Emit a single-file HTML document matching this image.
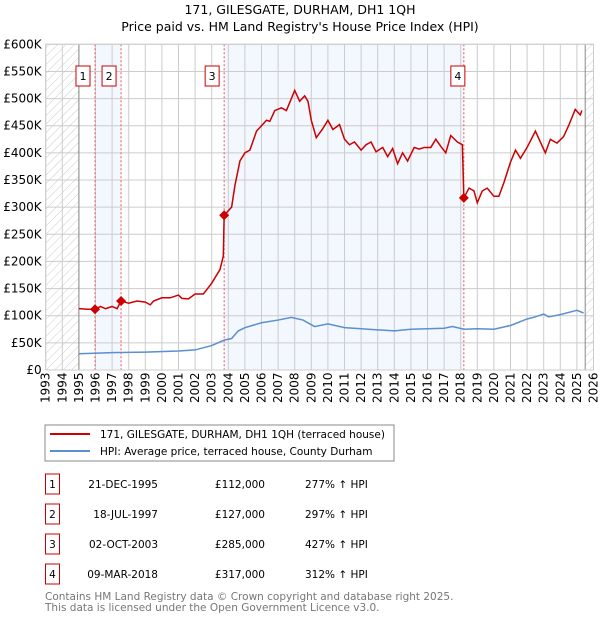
<!DOCTYPE html>
<html><head><meta charset="utf-8"><style>
body{margin:0;background:#fff;width:600px;height:620px;overflow:hidden;font-family:"DejaVu Sans","Liberation Sans",sans-serif}
svg text{font-family:"DejaVu Sans","Liberation Sans",sans-serif}
</style></head><body>
<svg id="c" width="600" height="620" xmlns="http://www.w3.org/2000/svg">
<defs><pattern id="hatch" width="6" height="6" patternUnits="userSpaceOnUse" patternTransform="rotate(45)"><line x1="0" y1="0" x2="0" y2="6" stroke="#ccc" stroke-width="1"/></pattern></defs>
<text x="300" y="14" text-anchor="middle" font-size="12.5">171, GILESGATE, DURHAM, DH1 1QH</text>
<text x="300" y="31" text-anchor="middle" font-size="12.5">Price paid vs. HM Land Registry's House Price Index (HPI)</text>
<g id="plot"></g>
<rect x="45" y="425" width="349" height="36" fill="#fff" stroke="#888"/>
<line x1="50" y1="434" x2="90" y2="434" stroke="#cc0000" stroke-width="2"/>
<text x="100" y="438" font-size="10.5">171, GILESGATE, DURHAM, DH1 1QH (terraced house)</text>
<line x1="50" y1="451" x2="90" y2="451" stroke="#5b8fd0" stroke-width="2"/>
<text x="100" y="455" font-size="10.5">HPI: Average price, terraced house, County Durham</text>
<g id="table" font-size="10.5"></g>
<text x="45" y="600" font-size="10.5" fill="#777">Contains HM Land Registry data © Crown copyright and database right 2025.</text>
<text x="45" y="611" font-size="10.5" fill="#777">This data is licensed under the Open Government Licence v3.0.</text>
</svg>
<script>
const years=[1993,1994,1995,1996,1997,1998,1999,2000,2001,2002,2003,2004,2005,2006,2007,2008,2009,2010,2011,2012,2013,2014,2015,2016,2017,2018,2019,2020,2021,2022,2023,2024,2025,2026];
const yTicks=[0,50,100,150,200,250,300,350,400,450,500,550,600];
const priceT=[1995.0,1995.5,1995.97,1996.3,1996.6,1997.0,1997.3,1997.54,1998.0,1998.5,1999.0,1999.3,1999.5,2000.0,2000.5,2001.0,2001.2,2001.6,2002.0,2002.5,2003.0,2003.5,2003.7,2003.75,2004.2,2004.4,2004.7,2005.0,2005.3,2005.7,2006.0,2006.3,2006.5,2006.8,2007.2,2007.5,2007.8,2008.0,2008.3,2008.6,2008.8,2009.0,2009.3,2009.7,2010.0,2010.3,2010.7,2011.0,2011.3,2011.6,2012.0,2012.3,2012.6,2012.9,2013.3,2013.6,2013.9,2014.2,2014.5,2014.8,2015.2,2015.5,2015.8,2016.2,2016.5,2016.8,2017.1,2017.4,2017.8,2018.1,2018.19,2018.5,2018.8,2019.0,2019.3,2019.6,2020.0,2020.3,2020.6,2021.0,2021.3,2021.6,2022.0,2022.5,2022.8,2023.1,2023.4,2023.8,2024.2,2024.5,2024.9,2025.2,2025.3];
const priceV=[113,112,112,117,113,117,113,127,123,127,125,120,127,133,133,138,132,131,140,140,160,185,210,285,300,340,385,400,405,440,450,460,458,478,483,478,500,515,495,505,495,460,428,445,460,443,452,425,415,420,405,415,420,402,410,393,408,380,400,385,410,407,410,410,425,412,400,432,420,415,317,335,330,308,330,335,320,320,345,383,405,390,410,440,420,400,425,418,430,450,480,470,478];
const hpiT=[1995,1997,1999,2001,2002,2003,2003.75,2004.2,2004.6,2005,2006,2007,2007.8,2008.5,2009.2,2010,2011,2012,2013,2014,2015,2016,2017,2017.5,2018.2,2019,2020,2021,2022,2022.5,2023,2023.3,2024,2025,2025.4];
const hpiV=[30,32,33,35,37,45,55,58,72,78,87,92,97,92,80,85,78,76,74,72,75,76,77,80,75,76,75,82,94,98,103,98,102,110,105];
const saleT=[1995.97,1997.54,2003.75,2018.19];
const saleV=[112,127,285,317];
const saleLabels=["1","2","3","4"];
const saleDates=["21-DEC-1995","18-JUL-1997","02-OCT-2003","09-MAR-2018"];
const salePrices=["£112,000","£127,000","£285,000","£317,000"];
const saleHpi=["277% ↑ HPI","297% ↑ HPI","427% ↑ HPI","312% ↑ HPI"];
const L=45.7,R=593.5,T=44.3,B=370;
const X=t=>L+(t-1993)/(2026-1993)*(R-L);
const Y=v=>B-v/600*(B-T);
const NS="http://www.w3.org/2000/svg";
const g=document.getElementById('plot');
function mk(tag,attrs,parent){const e=document.createElementNS(NS,tag);for(const k in attrs)e.setAttribute(k,attrs[k]);(parent||g).appendChild(e);return e;}
let e;
e=mk('rect',{x:X(saleT[0]),y:T,width:X(saleT[1])-X(saleT[0]),height:B-T,fill:'#f3f7fe'});


e=mk('rect',{x:X(saleT[2]),y:T,width:X(saleT[3])-X(saleT[2]),height:B-T,fill:'#f3f7fe'});


e=mk('rect',{x:L,y:T,width:X(1995)-L,height:B-T,fill:'url(#hatch)'});


e=mk('rect',{x:X(2025.5),y:T,width:R-X(2025.5),height:B-T,fill:'url(#hatch)'});


years.forEach(y=>{
 e=mk('line',{x1:X(y),y1:T,x2:X(y),y2:B,stroke:'#ccc','stroke-width':1});
 
 
 e=mk('text',{x:0,y:0,transform:`translate(${X(y)+4},${B+33}) rotate(-90)`,'font-size':12});
 e.textContent=y;
 
 
});
yTicks.forEach(v=>{
 e=mk('line',{x1:L,y1:Y(v),x2:R,y2:Y(v),stroke:'#ccc','stroke-width':1});
 
 
 e=mk('text',{x:L-4,y:Y(v)+4,'text-anchor':'end','font-size':12});
 e.textContent=v===0?'£0':'£'+v+'K';
 
 
});
e=mk('line',{x1:X(1995),y1:T,x2:X(1995),y2:B,stroke:'#888'});


e=mk('line',{x1:X(2025.5),y1:T,x2:X(2025.5),y2:B,stroke:'#888'});


saleT.forEach((t,i)=>{
 e=mk('line',{x1:X(t),y1:T,x2:X(t),y2:B,stroke:'#ee5555','stroke-dasharray':'2,2'});
 
 
 const bx=X(t)-(i==3?6:12)-7;
 e=mk('rect',{x:bx,y:66,width:14,height:20,fill:'#fff',stroke:'#cc0000'});
 
 
 e=mk('text',{x:bx+7,y:80,'text-anchor':'middle','font-size':11});
 e.textContent=saleLabels[i];
 
 
});
e=mk('polyline',{points:hpiT.map((t,i)=>X(t)+','+Y(hpiV[i])).join(' '),fill:'none',stroke:'#5b8fd0','stroke-width':1.5});


e=mk('polyline',{points:priceT.map((t,i)=>X(t)+','+Y(priceV[i])).join(' '),fill:'none',stroke:'#cc0000','stroke-width':1.5});


saleT.forEach((t,i)=>{
 const x=X(t),y=Y(saleV[i]);
 e=mk('polygon',{points:`${x},${y-5} ${x+5},${y} ${x},${y+5} ${x-5},${y}`,fill:'#cc0000'});
 
 
});
e=mk('rect',{x:L,y:T,width:R-L,height:B-T,fill:'none',stroke:'#ccc'});


const tb=document.getElementById('table');
saleT.forEach((t,i)=>{
 const cy=483+i*30;
 e=mk('rect',{x:45.5,y:cy-9,width:14,height:20,fill:'#fff',stroke:'#cc0000'},tb);
 
 
 e=mk('text',{x:52.5,y:cy+5,'text-anchor':'middle'},tb);
 e.textContent=saleLabels[i];
 
 
 e=mk('text',{x:158,y:cy+5,'text-anchor':'end'},tb);
 e.textContent=saleDates[i];
 
 
 e=mk('text',{x:265,y:cy+5,'text-anchor':'end'},tb);
 e.textContent=salePrices[i];
 
 
 e=mk('text',{x:305,y:cy+5},tb);
 e.textContent=saleHpi[i];
 
 
});
</script>
</body></html>
